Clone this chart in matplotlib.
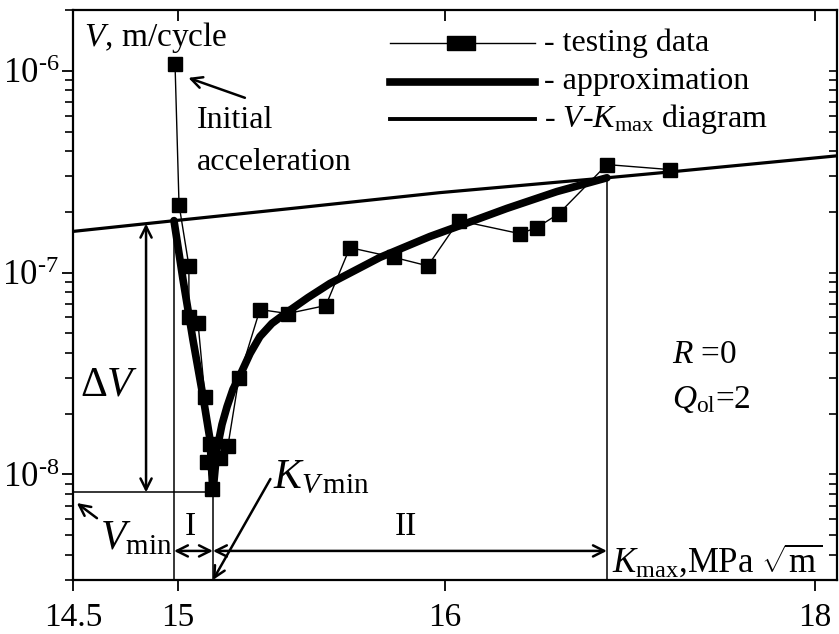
import numpy as np
import matplotlib
matplotlib.use("Agg")
import matplotlib.pyplot as plt
from matplotlib import ticker

# Fatigue crack growth after an overload: K in MPa*sqrt(m), V in m/cycle
k_test = [14.986, 15.004, 15.041, 15.041, 15.075, 15.101, 15.120, 15.109,
          15.128, 15.157, 15.187, 15.228, 15.307, 15.412, 15.554, 15.644,
          15.809, 15.936, 16.076, 16.405, 16.497, 16.616, 16.876, 17.216]
v_test = [1.08e-6, 2.17e-7, 1.08e-7, 6.05e-8, 5.65e-8, 2.43e-8, 1.41e-8, 1.15e-8,
          8.43e-9, 1.21e-8, 1.38e-8, 2.99e-8, 6.56e-8, 6.27e-8, 6.87e-8, 1.33e-7,
          1.19e-7, 1.08e-7, 1.81e-7, 1.56e-7, 1.67e-7, 1.96e-7, 3.43e-7, 3.24e-7]

k_appr = [14.981, 15.019, 15.056, 15.094, 15.120, 15.131, 15.146, 15.165,
          15.184, 15.206, 15.232, 15.270, 15.307, 15.352, 15.412, 15.487,
          15.569, 15.757, 15.944, 16.097, 16.335, 16.605, 16.876]
v_appr = [1.81e-7, 9.22e-8, 4.66e-8, 2.43e-8, 1.49e-8, 8.15e-9, 1.33e-8, 1.77e-8,
          2.17e-8, 2.64e-8, 3.09e-8, 3.97e-8, 4.82e-8, 5.60e-8, 6.41e-8, 7.52e-8,
          8.83e-8, 1.19e-7, 1.51e-7, 1.73e-7, 2.08e-7, 2.52e-7, 2.95e-7]

# V-Kmax diagram (constant amplitude loading)
k_vk = [14.5, 14.986, 15.457, 15.981, 16.876, 17.227, 18.12]
v_vk = [1.60e-7, 1.81e-7, 2.10e-7, 2.49e-7, 2.95e-7, 3.16e-7, 3.79e-7]

K_TICKS = [14.5, 15, 16, 18]
K_TICK_LABELS = ["14.5", "15", "16", "18"]
V_TICKS = [1e-8, 1e-7, 1e-6]

# the K axis of the original diagram is stretched unevenly between its ticks
AXIS_K = np.array([14.5, 15.0, 16.0, 18.0])
AXIS_U = np.array([0.0, 105.0, 372.0, 742.0])


def k_fwd(k):
    k = np.asarray(k, dtype=float)
    s0 = (AXIS_U[1] - AXIS_U[0]) / (AXIS_K[1] - AXIS_K[0])
    s1 = (AXIS_U[-1] - AXIS_U[-2]) / (AXIS_K[-1] - AXIS_K[-2])
    return np.where(k < AXIS_K[0], AXIS_U[0] + (k - AXIS_K[0]) * s0,
                    np.where(k > AXIS_K[-1], AXIS_U[-1] + (k - AXIS_K[-1]) * s1,
                             np.interp(k, AXIS_K, AXIS_U)))


def k_inv(u):
    u = np.asarray(u, dtype=float)
    s0 = (AXIS_U[1] - AXIS_U[0]) / (AXIS_K[1] - AXIS_K[0])
    s1 = (AXIS_U[-1] - AXIS_U[-2]) / (AXIS_K[-1] - AXIS_K[-2])
    return np.where(u < AXIS_U[0], AXIS_K[0] + (u - AXIS_U[0]) / s0,
                    np.where(u > AXIS_U[-1], AXIS_K[-1] + (u - AXIS_U[-1]) / s1,
                             np.interp(u, AXIS_U, AXIS_K)))


def v_label(v, pos):
    # short hyphen in the exponent keeps the labels narrow
    return r"$10^{\text{-}%d}$" % round(-np.log10(v))


plt.rcParams["font.family"] = "Liberation Serif"
plt.rcParams["mathtext.fontset"] = "custom"
plt.rcParams["mathtext.rm"] = "Liberation Serif"
plt.rcParams["mathtext.it"] = "Liberation Serif:italic"
plt.rcParams["mathtext.bf"] = "Liberation Serif:bold"

XLIM = (14.5, 18.12)
YLIM = (3.0e-9, 2.0e-6)

fig = plt.figure(figsize=(8.39, 6.34), dpi=100)
ax = fig.add_axes([0.087, 0.0852, 0.9106, 0.899])

ax.set_xscale("function", functions=(k_fwd, k_inv))
ax.set_yscale("log")
ax.set_xlim(*XLIM)
ax.set_ylim(*YLIM)

# curves
ax.plot(k_vk, v_vk, color="black", lw=2.3, zorder=3)
ax.plot(k_appr, v_appr, color="black", lw=5.5, solid_joinstyle="round",
        solid_capstyle="round", zorder=4)
ax.plot(k_test, v_test, color="black", lw=1.0, marker="s", ms=10,
        mfc="black", mec="black", zorder=5)

# characteristic points
i_min = int(np.argmin(v_appr))
K_START, V_START = k_appr[0], v_appr[0]
K_VMIN, V_MIN = k_appr[i_min], v_appr[i_min]
K_END, V_END = k_appr[-1], v_appr[-1]
thin = dict(color="black", lw=1.1, zorder=2)
ax.plot([K_START, K_START], [YLIM[0], V_START], **thin)
ax.plot([K_VMIN, K_VMIN], [YLIM[0], V_MIN], **thin)
ax.plot([K_END, K_END], [YLIM[0], V_END], **thin)
ax.plot([XLIM[0], K_VMIN], [V_MIN, V_MIN], **thin)

arrow = dict(arrowstyle="<->", color="black", lw=1.8, mutation_scale=20,
             shrinkA=0, shrinkB=0)
one_arrow = dict(arrowstyle="->", color="black", lw=1.8, mutation_scale=20,
                 shrinkA=0, shrinkB=0)

# delta V between V-Kmax line and Vmin
K_DV = 14.848
V_DV = 10 ** np.interp(K_DV, k_vk, np.log10(v_vk))
ax.annotate("", xy=(K_DV, V_DV), xytext=(K_DV, V_MIN), arrowprops=arrow)
ax.text(0.009, 0.342, r"$\Delta V$", transform=ax.transAxes, fontsize=30,
        ha="left", va="center")

# zones I and II
mix = ("data", "axes fraction")
ax.annotate("", xy=(K_VMIN, 0.051), xytext=(K_START, 0.051),
            xycoords=mix, textcoords=mix, arrowprops=arrow)
ax.annotate("", xy=(K_END, 0.051), xytext=(K_VMIN, 0.051),
            xycoords=mix, textcoords=mix, arrowprops=arrow)
ax.text(0.153, 0.093, "I", transform=ax.transAxes, fontsize=24,
        ha="center", va="center")
ax.text(0.436, 0.093, "II", transform=ax.transAxes, fontsize=24,
        ha="center", va="center")

# labels with pointers
ax.annotate(r"$V_{\rm min}$", xy=(0.005, 0.135), xytext=(0.035, 0.053),
            xycoords="axes fraction", textcoords="axes fraction",
            fontsize=30, ha="left", va="baseline",
            arrowprops=dict(one_arrow, relpos=(0.0, 1.0)))
ax.annotate(r"$K_{V\,\rm min}$", xy=(K_VMIN, 0.0), xytext=(0.262, 0.161),
            xycoords=mix, textcoords="axes fraction",
            fontsize=30, ha="left", va="baseline",
            arrowprops=dict(one_arrow, relpos=(0.0, 0.6)))
ax.annotate("", xy=(0.151, 0.881), xytext=(0.225, 0.846),
            xycoords="axes fraction", textcoords="axes fraction",
            arrowprops=one_arrow)
ax.text(0.162, 0.807, "Initial", transform=ax.transAxes, fontsize=23,
        ha="left", va="center")
ax.text(0.162, 0.732, "acceleration", transform=ax.transAxes, fontsize=23,
        ha="left", va="center")

ax.text(0.014, 0.951, r"$V$, m/cycle", transform=ax.transAxes, fontsize=24,
        ha="left", va="center")
ax.text(0.7055, 0.015, r"$K_{\rm max}$,MPa $\sqrt{\rm m}$",
        transform=ax.transAxes, fontsize=25, ha="left", va="baseline")
ax.text(0.784, 0.395, r"$R$ =0", transform=ax.transAxes, fontsize=24,
        ha="left", va="center")
ax.text(0.784, 0.316, r"$Q_{\rm ol}$=2", transform=ax.transAxes, fontsize=24,
        ha="left", va="center")

# hand-made legend
rect = [(-1, -0.5), (1, -0.5), (1, 0.5), (-1, 0.5), (-1, -0.5)]
lx = [0.415, 0.605]
ax.plot(lx, [0.942, 0.942], transform=ax.transAxes, color="black", lw=1.0)
ax.plot([0.508], [0.942], transform=ax.transAxes, marker=rect, ms=20,
        color="black", ls="none")
ax.plot(lx, [0.874, 0.874], transform=ax.transAxes, color="black", lw=5.5)
ax.plot(lx, [0.809, 0.809], transform=ax.transAxes, color="black", lw=2.8)
legend_texts = ["- testing data", "- approximation",
                r"- $V$-$K_{\rm max}$ diagram"]
for y, s in zip([0.942, 0.874, 0.809], legend_texts):
    ax.text(0.617, y, s, transform=ax.transAxes, fontsize=23,
            ha="left", va="center")

# axes and ticks
ax.set_xticks(K_TICKS, labels=K_TICK_LABELS)
ax.set_yticks(V_TICKS)
ax.yaxis.set_major_formatter(ticker.FuncFormatter(v_label))
ax.yaxis.set_minor_locator(ticker.LogLocator(subs=np.arange(2, 10)))
ax.yaxis.set_minor_formatter(ticker.NullFormatter())
ax.tick_params(axis="both", which="major", direction="out", length=8,
               width=1.3, labelsize=24, colors="black")
ax.tick_params(axis="x", pad=8)
ax.tick_params(axis="y", which="major", pad=2, labelsize=25)
ax.tick_params(axis="y", which="minor", direction="out", length=6, width=1.2)
for s in ax.spines.values():
    s.set_linewidth(1.6)

# inward ticks on the right and top edges
axr = ax.twinx()
axr.set_yscale("log")
axr.set_ylim(*YLIM)
axr.set_yticks(V_TICKS)
axr.yaxis.set_minor_locator(ticker.LogLocator(subs=np.arange(2, 10)))
axr.tick_params(axis="y", which="both", direction="in", labelright=False,
                length=6, width=1.2)
axt = ax.twiny()
axt.set_xscale("function", functions=(k_fwd, k_inv))
axt.set_xlim(*XLIM)
axt.set_xticks(K_TICKS)
axt.tick_params(axis="x", direction="in", labeltop=False, length=8, width=1.3)
for a in (axr, axt):
    a.patch.set_visible(False)
    for s in a.spines.values():
        s.set_visible(False)

fig.savefig("out.png", dpi=100)
